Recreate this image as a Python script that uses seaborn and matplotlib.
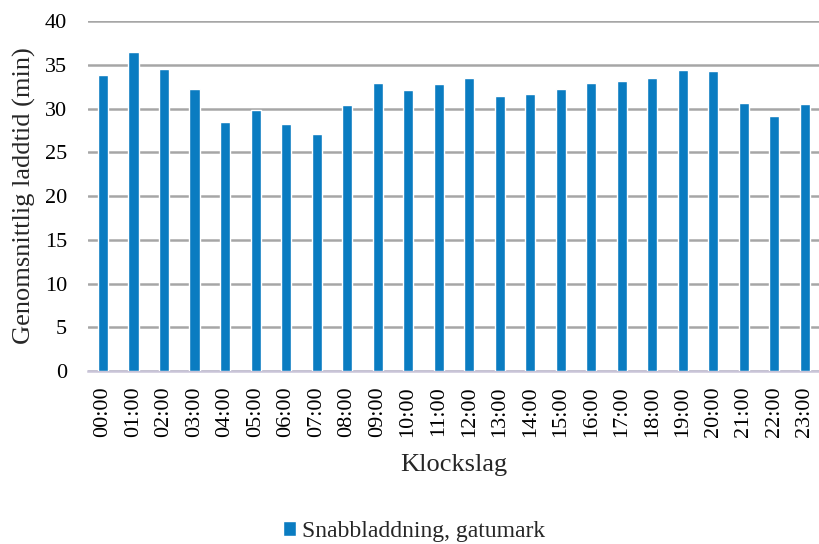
import numpy as np
import pandas as pd
import matplotlib
matplotlib.use("Agg")
import matplotlib.pyplot as plt
import seaborn as sns

# hours of day and mean charging time (min)
hours = ["%02d:00" % h for h in range(24)]
laddtid = [33.9, 36.5, 34.5, 32.3, 28.5, 29.8, 28.2, 27.1, 30.4, 32.9, 32.1, 32.8,
           33.5, 31.4, 31.7, 32.3, 32.9, 33.2, 33.5, 34.4, 34.3, 30.7, 29.2, 30.5]
series_name = "Snabbladdning, gatumark"

df = pd.DataFrame({"Klockslag": hours, "laddtid": laddtid})

sns.set_theme(style="white")
plt.rcParams["font.family"] = ["Liberation Serif", "DejaVu Serif"]

fig = plt.figure(figsize=(8.2, 5.44), dpi=100)
ax = fig.add_axes([0.107, 0.318, 0.893, 0.643])

sns.barplot(data=df, x="Klockslag", y="laddtid", color="#0A7CC1",
            width=0.33, saturation=1, label=series_name, ax=ax, zorder=3)

ax.set_ylim(0, 40)
ax.set_yticks(np.arange(0, 41, 5))
ax.set_xlim(-0.5, 23.5)
ax.grid(axis="y", color="#A6A6A6", linewidth=1.8, zorder=0)
for s in ["top", "right", "left"]:
    ax.spines[s].set_visible(False)
ax.spines["bottom"].set_color("#C9C4D8")
ax.spines["bottom"].set_linewidth(1.8)
ax.tick_params(axis="both", length=0, labelsize=16, colors="black")
ax.tick_params(axis="x", rotation=90, pad=11)
ax.tick_params(axis="y", pad=15)
ax.set_xlabel("Klockslag", fontsize=19, labelpad=12)
ax.set_ylabel("Genomsnittlig laddtid (min)", fontsize=19, labelpad=6)

ax.legend(loc="lower center", bbox_to_anchor=(0.505, -0.035), bbox_transform=fig.transFigure,
          frameon=False, fontsize=17, handlelength=0.55, handleheight=0.55, handletextpad=0.25)

fig.savefig("out.png", dpi=100)
